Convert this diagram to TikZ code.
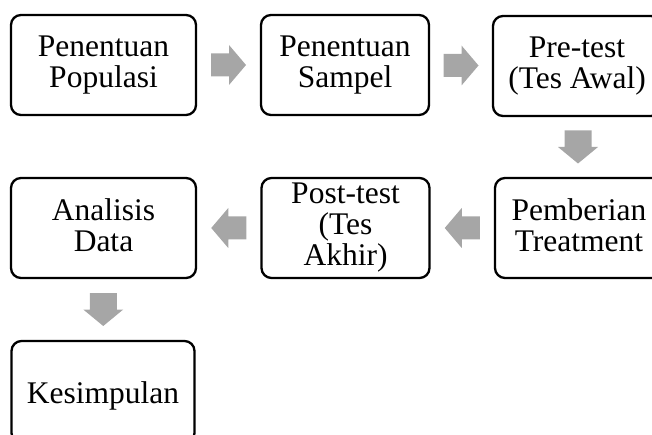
\documentclass[tikz,border=0pt]{standalone}
\usepackage{fontspec}
\setmainfont{Liberation Serif}
\definecolor{arrowgray}{HTML}{A6A6A6}
\begin{document}
\begin{tikzpicture}[x=1pt,y=-1pt,
  stepbox/.style={draw=black, line width=2.3pt, rounded corners=10pt, align=center,
    inner sep=0pt, font=\fontsize{31.5}{31}\selectfont,
    execute at begin node={\rule{0pt}{29pt}},
    execute at end node={\rule[-6pt]{0pt}{6pt}}},
  hbox/.style={stepbox, minimum width=168pt, minimum height=100pt},
  wbox/.style={stepbox, minimum width=185pt, minimum height=100pt},
  blockarrow/.pic={\fill[arrowgray] (-17.5,-11.5) -- (0.5,-11.5) -- (0.5,-20) -- (17.5,0) -- (0.5,20) -- (0.5,11.5) -- (-17.5,11.5) -- cycle;},
  downarrow/.pic={\fill[arrowgray] (-13.5,-16.5) -- (13.5,-16.5) -- (13.5,0) -- (20,0) -- (0,16.5) -- (-20,0) -- (-13.5,0) -- cycle;}
]
\useasboundingbox (0,0) rectangle (652,435);
\node[wbox] (pop) at (103.5,65) {Penentuan\\Populasi};
\node[hbox] (sam) at (345,65) {Penentuan\\Sampel};
\node[hbox] (pre) at (577,66) {Pre-test\\(Tes Awal)};
\node[hbox] (tre) at (579,228) {Pemberian\\Treatment};
\node[hbox] (post) at (345.5,228) {Post-test\\(Tes\\Akhir)};
\node[wbox] (ana) at (103.5,228) {Analisis\\Data};
\node[stepbox, minimum width=183pt, minimum height=102pt] (kes) at (103,392) {Kesimpulan};
\path (pop.east) -- (sam.west) pic[pos=0.5] {blockarrow};
\path (sam.east) -- (pre.west) pic[pos=0.5] {blockarrow};
\path (pre.south) -- (tre.north) pic[pos=0.5] {downarrow};
\path (tre.west) -- (post.east) pic[pos=0.5, rotate=180] {blockarrow};
\path (post.west) -- (ana.east) pic[pos=0.5, rotate=180] {blockarrow};
\path (ana.south) -- (kes.north) pic[pos=0.5] {downarrow};
\end{tikzpicture}
\end{document}
